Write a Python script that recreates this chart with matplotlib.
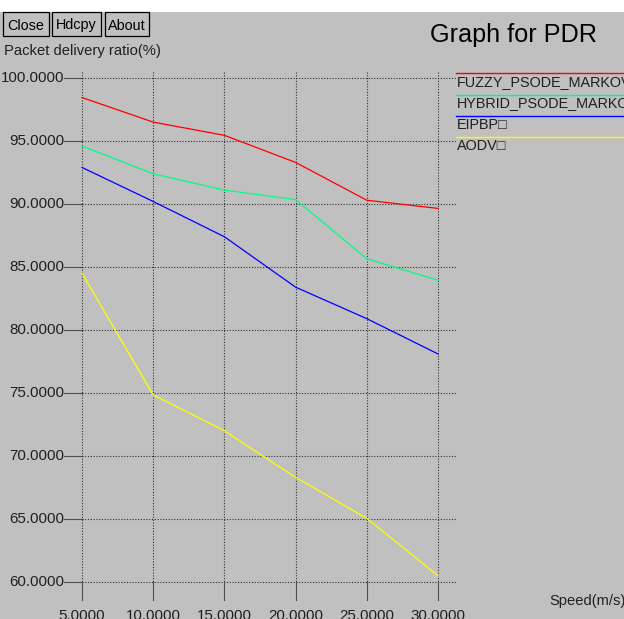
import matplotlib.pyplot as plt
from matplotlib.patches import Rectangle

# values
speed = [5, 10, 15, 20, 25, 30]
fuzzy = [98.45, 96.5, 95.45, 93.3, 90.3, 89.65]
hybrid = [94.6, 92.4, 91.1, 90.35, 85.65, 83.95]
eipbp = [92.9, 90.2, 87.4, 83.4, 80.9, 78.1]
aodv = [84.5, 74.85, 72.0, 68.3, 65.05, 60.5]

names = ["FUZZY_PSODE_MARKOV", "HYBRID_PSODE_MARKOV", "EIPBP\u25a1", "AODV\u25a1"]
colors = ["#ff0000", "#00ff80", "#0000ff", "#ffff00"]
series = [fuzzy, hybrid, eipbp, aodv]

xticks = [5, 10, 15, 20, 25, 30]
yticks = [60, 65, 70, 75, 80, 85, 90, 95, 100]

W, H = 624, 619
bg = "#c0c0c0"
plt.rcParams['font.family'] = ['Liberation Sans', 'DejaVu Sans']

fig = plt.figure(figsize=(W / 100, H / 100), dpi=100, facecolor=bg)
ax = fig.add_axes([0, 0, 1, 1])
ax.set_facecolor(bg)
ax.axis('off')

# pixel layout of the plotting region
x0px, x1px = 82, 438
y0px, y1px = 78, 582
sx = (x1px - x0px) / (xticks[-1] - xticks[0])
sy = (y1px - y0px) / (yticks[-1] - yticks[0])

def px2x(p):
    return xticks[0] + (p - x0px) / sx

def py2y(p):
    return yticks[-1] - (p - y0px) / sy

ax.set_xlim(px2x(0), px2x(W))
ax.set_ylim(py2y(H), py2y(0))

def fx(p):
    return p / W

def fy(p):
    return 1 - p / H

grid_c = "#303030"
# horizontal grid + ticks
for v in yticks:
    ax.plot([px2x(64), px2x(x0px)], [v, v], color="#505050", lw=0.8)
    ax.plot([px2x(x0px), px2x(456)], [v, v], color=grid_c, lw=0.8, ls=(0, (1, 1.5)))
    ax.text(px2x(64), v, "%.4f" % v, ha='right', va='center', fontsize=10.9, color="#202020")
# vertical grid + ticks
for v in xticks:
    ax.plot([v, v], [py2y(72), py2y(y1px)], color=grid_c, lw=0.8, ls=(0, (1, 1.5)))
    ax.plot([v, v], [py2y(y1px), py2y(600)], color="#505050", lw=0.8)
    ax.text(v, py2y(620), "%.4f" % v, ha='center', va='baseline', fontsize=10.9, color="#202020")

for s, c in zip(series, colors):
    ax.plot(speed, s, color=c, lw=0.9)

# legend on the right
leg_line = [73.3, 94.7, 116, 137]
leg_base = [86, 107, 129, 150]
for n, c, ly, tb in zip(names, colors, leg_line, leg_base):
    fig.add_artist(plt.Line2D([fx(456), fx(W)], [fy(ly), fy(ly)], color=c, lw=1.0))
    fig.text(fx(456.5), fy(tb), n, ha='left', va='baseline', fontsize=10.4, color="#202020")

# white strip on top
fig.add_artist(Rectangle((0, fy(12)), 1, 12 / H, transform=fig.transFigure,
                         facecolor='white', edgecolor='none'))

# buttons
for label, l, r in [("Close", 3, 48.5), ("Hdcpy", 52, 101), ("About", 105, 148.5)]:
    fig.add_artist(Rectangle((fx(l), fy(35.5)), (r - l) / W, 23 / H, transform=fig.transFigure,
                             facecolor=bg, edgecolor='black', lw=0.9))
    fig.text(fx((l + r) / 2), fy(29.5), label, ha='center', va='baseline', fontsize=10.4)

fig.text(fx(3.5), fy(55.5), "Packet delivery ratio(%)", ha='left', va='baseline',
         fontsize=10.6, color="#202020")
fig.text(fx(430), fy(42), "Graph for PDR", ha='left', va='baseline', fontsize=18.2)
fig.text(fx(549), fy(605), "Speed(m/s)", ha='left', va='baseline', fontsize=10.6, color="#202020")

fig.savefig("out.png", dpi=100, facecolor=bg)
